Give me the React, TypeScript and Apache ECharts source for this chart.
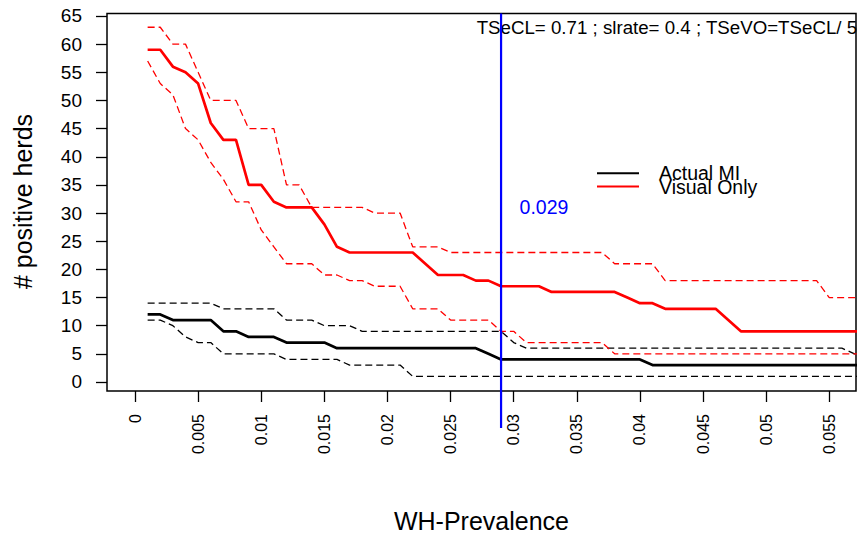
import React, { useEffect, useRef } from "react";
import * as echarts from "echarts";

const FONT = '"Liberation Sans", Arial, Helvetica, sans-serif';

// WH-Prevalence values (x)
const prevalence = [
  0.001, 0.002, 0.003, 0.004, 0.005, 0.006, 0.007, 0.008, 0.009, 0.010,
  0.011, 0.012, 0.013, 0.014, 0.015, 0.016, 0.017, 0.018, 0.019, 0.020,
  0.021, 0.022, 0.023, 0.024, 0.025, 0.026, 0.027, 0.028, 0.029, 0.030,
  0.031, 0.032, 0.033, 0.034, 0.035, 0.036, 0.037, 0.038, 0.039, 0.040,
  0.041, 0.042, 0.043, 0.044, 0.045, 0.046, 0.047, 0.048, 0.049, 0.050,
  0.051, 0.052, 0.053, 0.054, 0.055, 0.056, 0.057, 0.058,
];

// Actual MI (black)
const actualMI = [
  12, 12, 11, 11, 11, 11, 9, 9, 8, 8,
  8, 7, 7, 7, 7, 6, 6, 6, 6, 6,
  6, 6, 6, 6, 6, 6, 6, 5, 4, 4,
  4, 4, 4, 4, 4, 4, 4, 4, 4, 4,
  3, 3, 3, 3, 3, 3, 3, 3, 3, 3,
  3, 3, 3, 3, 3, 3, 3, 3,
];
const actualMIUpper = [
  14, 14, 14, 14, 14, 14, 13, 13, 13, 13,
  13, 11, 11, 11, 10, 10, 10, 9, 9, 9,
  9, 9, 9, 9, 9, 9, 9, 9, 9, 7,
  6, 6, 6, 6, 6, 6, 6, 6, 6, 6,
  6, 6, 6, 6, 6, 6, 6, 6, 6, 6,
  6, 6, 6, 6, 6, 6, 5, 5,
];
const actualMILower = [
  11, 11, 10, 8, 7, 7, 5, 5, 5, 5,
  5, 4, 4, 4, 4, 4, 3, 3, 3, 3,
  3, 1, 1, 1, 1, 1, 1, 1, 1, 1,
  1, 1, 1, 1, 1, 1, 1, 1, 1, 1,
  1, 1, 1, 1, 1, 1, 1, 1, 1, 1,
  1, 1, 1, 1, 1, 1, 1, 1,
];

// Visual Only (red)
const visualOnly = [
  59, 59, 56, 55, 53, 46, 43, 43, 35, 35,
  32, 31, 31, 31, 28, 24, 23, 23, 23, 23,
  23, 23, 21, 19, 19, 19, 18, 18, 17, 17,
  17, 17, 16, 16, 16, 16, 16, 16, 15, 14,
  14, 13, 13, 13, 13, 13, 11, 9, 9, 9,
  9, 9, 9, 9, 9, 9, 9, 9,
];
const visualOnlyUpper = [
  63, 63, 60, 60, 55, 50, 50, 50, 45, 45,
  45, 35, 35, 31, 31, 31, 31, 31, 30, 30,
  30, 24, 24, 24, 23, 23, 23, 23, 23, 23,
  23, 23, 23, 23, 23, 23, 23, 21, 21, 21,
  21, 18, 18, 18, 18, 18, 18, 18, 18, 18,
  18, 18, 18, 18, 15, 15, 15, 15,
];
const visualOnlyLower = [
  57, 53, 51, 45, 43, 39, 36, 32, 32, 27,
  24, 21, 21, 21, 19, 19, 18, 18, 17, 17,
  17, 13, 13, 13, 11, 11, 11, 11, 9, 9,
  7, 7, 7, 7, 7, 7, 7, 5, 5, 5,
  5, 5, 5, 5, 5, 5, 5, 5, 5, 5,
  5, 5, 5, 5, 5, 5, 5, 5,
];

// Threshold vertical line
const thresholdX = [0.029, 0.029];
const thresholdY = [65.44, -8.16];
const thresholdLabel = "0.029";

const xTicks = [0, 0.005, 0.01, 0.015, 0.02, 0.025, 0.03, 0.035, 0.04, 0.045, 0.05, 0.055];
const yTicks = [0, 5, 10, 15, 20, 25, 30, 35, 40, 45, 50, 55, 60, 65];

const titleText = "TSeCL= 0.71 ; slrate= 0.4 ; TSeVO=TSeCL/ 5";
const xTitle = "WH-Prevalence";
const yTitle = "# positive herds";

const pairs = (ys: number[]) => prevalence.map((x, i) => [x, ys[i]]);

function lineSeries(name: string, ys: number[], color: string, dashed: boolean) {
  return {
    name,
    type: "line",
    data: pairs(ys),
    symbol: "none",
    showSymbol: false,
    silent: true,
    itemStyle: { color },
    lineStyle: dashed
      ? { color, width: 1.3, type: [7, 4] }
      : { color, width: 2.7, type: "solid" },
    z: dashed ? 2 : 3,
  };
}

export default function App() {
  const ref = useRef<HTMLDivElement>(null);
  useEffect(() => {
    if (!ref.current) return;
    const chart = echarts.init(ref.current, undefined, { renderer: "svg" });
    const option: any = {
      animation: false,
      backgroundColor: "#ffffff",
      textStyle: { fontFamily: FONT },
      grid: {
        left: 107,
        top: 13.5,
        width: 749,
        height: 377.5,
        show: true,
        borderColor: "#000",
        borderWidth: 1.5,
        backgroundColor: "transparent",
      },
      xAxis: {
        type: "value",
        min: -0.00222,
        max: 0.05712,
        axisLine: { show: false, onZero: false },
        splitLine: { show: false },
        axisTick: {
          show: true,
          length: 11,
          customValues: xTicks,
          lineStyle: { color: "#000", width: 1.3 },
        },
        axisLabel: {
          customValues: xTicks,
          rotate: 90,
          margin: 23,
          fontSize: 16,
          color: "#000",
          fontFamily: FONT,
          formatter: (v: number) => String(v),
        },
      },
      yAxis: {
        type: "value",
        min: -1.6,
        max: 65.44,
        axisLine: { show: false, onZero: false },
        splitLine: { show: false },
        axisTick: {
          show: true,
          length: 11,
          customValues: yTicks,
          lineStyle: { color: "#000", width: 1.3 },
        },
        axisLabel: {
          customValues: yTicks,
          margin: 25,
          fontSize: 19,
          color: "#000",
          fontFamily: FONT,
          formatter: (v: number) => String(v),
        },
      },
      legend: {
        data: ["Actual MI", "Visual Only"],
        orient: "vertical",
        left: 597,
        top: 163.3,
        padding: 0,
        itemGap: -6.7,
        icon: "rect",
        itemWidth: 42,
        itemHeight: 2,
        selectedMode: false,
        textStyle: {
          fontSize: 19.5,
          color: "#000",
          fontFamily: FONT,
          padding: [0, 0, 0, 15],
        },
      },
      series: [
        lineSeries("Actual MI", actualMI, "#000000", false),
        lineSeries("Actual MI upper", actualMIUpper, "#000000", true),
        lineSeries("Actual MI lower", actualMILower, "#000000", true),
        lineSeries("Visual Only", visualOnly, "#ff0000", false),
        lineSeries("Visual Only upper", visualOnlyUpper, "#ff0000", true),
        lineSeries("Visual Only lower", visualOnlyLower, "#ff0000", true),
        {
          name: "threshold",
          type: "line",
          data: thresholdX.map((x, i) => [x, thresholdY[i]]),
          symbol: "none",
          silent: true,
          clip: false,
          itemStyle: { color: "#0000ff" },
          lineStyle: { color: "#0000ff", width: 2.2 },
          z: 5,
        },
      ],
      graphic: [
        {
          type: "text",
          x: 476.7,
          y: 27.2,
          silent: true,
          style: {
            text: titleText,
            fill: "#000",
            fontSize: 18.7,
            fontFamily: FONT,
            textAlign: "left",
            textVerticalAlign: "middle",
          },
        },
        {
          type: "text",
          x: 544,
          y: 207,
          silent: true,
          style: {
            text: thresholdLabel,
            fill: "#0000ff",
            fontSize: 19.5,
            fontFamily: FONT,
            textAlign: "center",
            textVerticalAlign: "middle",
          },
        },
        {
          type: "text",
          x: 481.5,
          y: 520.5,
          silent: true,
          style: {
            text: xTitle,
            fill: "#000",
            fontSize: 25,
            lineHeight: 22,
            fontFamily: FONT,
            textAlign: "center",
            textVerticalAlign: "middle",
          },
        },
        {
          type: "text",
          x: 23,
          y: 201.5,
          rotation: Math.PI / 2,
          silent: true,
          style: {
            text: yTitle,
            fill: "#000",
            fontSize: 25,
            fontFamily: FONT,
            textAlign: "center",
            textVerticalAlign: "middle",
          },
        },
      ],
    };
    chart.setOption(option);
    return () => chart.dispose();
  }, []);
  return (
    <div
      ref={ref}
      style={{ position: "fixed", left: 0, top: 0, width: 857, height: 533, background: "#fff" }}
    />
  );
}
